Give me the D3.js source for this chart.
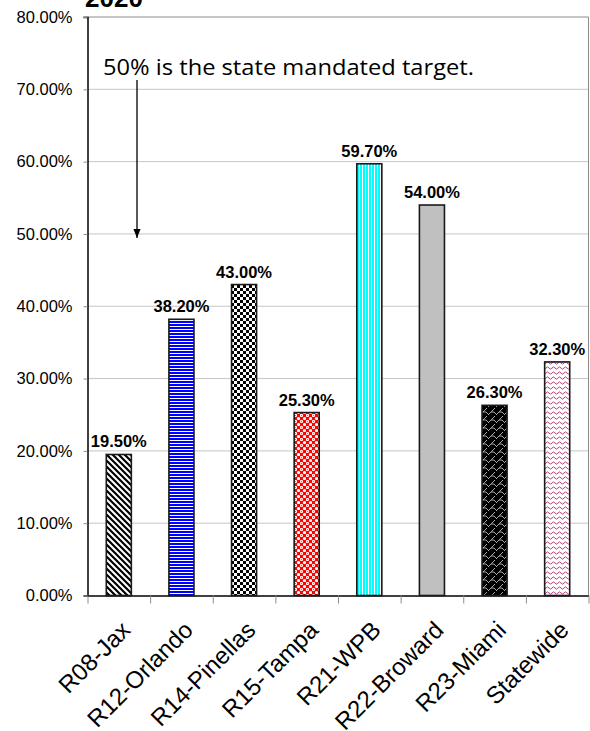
<!DOCTYPE html>
<html>
<head>
<meta charset="utf-8">
<script src="https://cdn.jsdelivr.net/npm/d3@7"></script>
<style>
  body { margin: 0; background: #fff; }
  svg { display: block; }
</style>
</head>
<body>
<div id="chart"></div>
<script>
// data
const regions = ["R08-Jax", "R12-Orlando", "R14-Pinellas", "R15-Tampa", "R21-WPB", "R22-Broward", "R23-Miami", "Statewide"];
const rates = [19.5, 38.2, 43.0, 25.3, 59.7, 54.0, 26.3, 32.3];
const yTicks = [0, 10, 20, 30, 40, 50, 60, 70, 80];
const fills = ["url(#pDiag)", "url(#pHoriz)", "url(#pCheck)", "url(#pRed)", "url(#pCyan)", "#c0c0c0", "url(#pMiami)", "url(#pWave)"];

const W = 590, H = 731;
const plotL = 87.5, plotR = 588.5, plotT = 17, plotB = 595.5;

const svg = d3.select("#chart").append("svg")
    .attr("width", W)
    .attr("height", H);

// pattern fills
const defs = svg.append("defs");

let p = defs.append("pattern").attr("id", "pDiag").attr("patternUnits", "userSpaceOnUse")
    .attr("width", 6).attr("height", 6);
p.append("rect").attr("width", 6).attr("height", 6).attr("fill", "#fff");
p.append("path").attr("d", "M-1,-1 L7,7 M-4,2 L2,8 M4,-2 L10,4")
    .attr("stroke", "#000").attr("stroke-width", 2.2);

p = defs.append("pattern").attr("id", "pHoriz").attr("patternUnits", "userSpaceOnUse")
    .attr("width", 4).attr("height", 3);
p.append("rect").attr("width", 4).attr("height", 3).attr("fill", "#fff");
p.append("rect").attr("width", 4).attr("height", 2).attr("fill", "#0000ff");

p = defs.append("pattern").attr("id", "pCheck").attr("patternUnits", "userSpaceOnUse")
    .attr("width", 6).attr("height", 6);
p.append("rect").attr("width", 6).attr("height", 6).attr("fill", "#fff");
p.append("rect").attr("width", 3).attr("height", 3).attr("fill", "#000");
p.append("rect").attr("x", 3).attr("y", 3).attr("width", 3).attr("height", 3).attr("fill", "#000");

p = defs.append("pattern").attr("id", "pRed").attr("patternUnits", "userSpaceOnUse")
    .attr("width", 6).attr("height", 6);
p.append("rect").attr("width", 6).attr("height", 6).attr("fill", "#ff0000");
p.append("circle").attr("cx", 1.5).attr("cy", 1.5).attr("r", 1.6).attr("fill", "#fff");
p.append("circle").attr("cx", 4.5).attr("cy", 4.5).attr("r", 1.6).attr("fill", "#fff");
p.append("rect").attr("x", 1).attr("y", 1).attr("width", 1).attr("height", 1).attr("fill", "#ff6060");

p = defs.append("pattern").attr("id", "pCyan").attr("patternUnits", "userSpaceOnUse")
    .attr("width", 3).attr("height", 4);
p.append("rect").attr("width", 3).attr("height", 4).attr("fill", "#fff");
p.append("rect").attr("width", 2).attr("height", 4).attr("fill", "#00ffff");

p = defs.append("pattern").attr("id", "pMiami").attr("patternUnits", "userSpaceOnUse")
    .attr("width", 8).attr("height", 8);
p.append("rect").attr("width", 8).attr("height", 8).attr("fill", "#000");
p.append("path").attr("d", "M0,7 L3,4 L6,4 M3,4 L7,0 M6,4 L8,6")
    .attr("stroke", "#a8a8a8").attr("stroke-width", 1).attr("fill", "none");

p = defs.append("pattern").attr("id", "pWave").attr("patternUnits", "userSpaceOnUse")
    .attr("width", 6).attr("height", 5);
p.append("rect").attr("width", 6).attr("height", 5).attr("fill", "#fff");
p.append("path").attr("d", "M0,3 Q1.5,0.8 3,3 T6,3")
    .attr("stroke", "#b8407a").attr("stroke-width", 1).attr("fill", "none");

defs.append("marker").attr("id", "arrow")
    .attr("viewBox", "0 0 10 10").attr("refX", 10).attr("refY", 5)
    .attr("markerWidth", 7).attr("markerHeight", 7).attr("orient", "auto")
    .append("path").attr("d", "M0,1 L10,5 L0,9 z").attr("fill", "#000");

// scales
const x = d3.scaleBand().domain(regions).range([plotL, plotR])
    .paddingInner(0.6).paddingOuter(0.3);
const y = d3.scaleLinear().domain([0, 80]).range([plotB, plotT]);
const edges = d3.scaleLinear().domain([0, regions.length]).range([plotL, plotR]);

// gridlines
svg.append("g").selectAll("line")
    .data(yTicks.filter(t => t > 0 && t < 80))
    .join("line")
    .attr("x1", plotL).attr("x2", plotR)
    .attr("y1", d => y(d)).attr("y2", d => y(d))
    .attr("stroke", "#8c8c8c").attr("stroke-width", 1).attr("stroke-dasharray", "1,1");

// plot frame (top and right)
svg.append("line").attr("x1", plotL - 4).attr("x2", plotR).attr("y1", y(80)).attr("y2", y(80))
    .attr("stroke", "#8c8c8c");
svg.append("line").attr("x1", plotR).attr("x2", plotR).attr("y1", y(80)).attr("y2", plotB)
    .attr("stroke", "#8c8c8c");

// y axis
const yAxis = svg.append("g").attr("transform", `translate(${plotL},0)`)
    .call(d3.axisLeft(y).tickValues(yTicks).tickSize(4).tickPadding(11)
        .tickFormat(d => d.toFixed(2) + "%"));
yAxis.select(".domain").attr("stroke", "#000").attr("stroke-width", 1.5);
yAxis.selectAll(".tick line").attr("stroke", "#8c8c8c");
yAxis.selectAll(".tick text")
    .attr("font-family", "Arial, 'Liberation Sans', sans-serif")
    .attr("font-size", 16.5).attr("fill", "#000");

// x axis (ticks at category edges)
const xAxis = svg.append("g").attr("transform", `translate(0,${plotB})`)
    .call(d3.axisBottom(edges).tickValues(d3.range(regions.length + 1))
        .tickSize(8).tickSizeOuter(0).tickFormat(""));
xAxis.select(".domain").attr("stroke", "#000").attr("stroke-width", 1.5);
xAxis.selectAll(".tick line").attr("stroke", "#8c8c8c");

// category labels
svg.append("g").selectAll("text")
    .data(regions)
    .join("text")
    .attr("transform", d => `translate(${x(d) + x.bandwidth() / 2 + 13},${plotB + 36}) rotate(-45)`)
    .attr("text-anchor", "end")
    .attr("font-family", "Arial, 'Liberation Sans', sans-serif")
    .attr("font-size", 24)
    .attr("fill", "#000")
    .text(d => d);

// bars
svg.append("g").selectAll("rect")
    .data(regions)
    .join("rect")
    .attr("x", d => x(d))
    .attr("width", x.bandwidth())
    .attr("y", (d, i) => y(rates[i]))
    .attr("height", (d, i) => plotB - y(rates[i]))
    .attr("fill", (d, i) => fills[i])
    .attr("stroke", "#1a1a1a")
    .attr("stroke-width", 1.6);

// value labels
svg.append("g").selectAll("text")
    .data(regions)
    .join("text")
    .attr("x", d => x(d) + x.bandwidth() / 2)
    .attr("y", (d, i) => y(rates[i]) - 7)
    .attr("text-anchor", "middle")
    .attr("font-family", "Arial, 'Liberation Sans', sans-serif")
    .attr("font-weight", "bold")
    .attr("font-size", 16.5)
    .attr("fill", "#000")
    .text((d, i) => rates[i].toFixed(2) + "%");

// cut-off title
svg.append("text")
    .attr("x", 85).attr("y", 7)
    .attr("font-family", "Arial, 'Liberation Sans', sans-serif")
    .attr("font-weight", "bold")
    .attr("font-size", 26)
    .text("2020");

// annotation
svg.append("text")
    .attr("x", 103).attr("y", 75)
    .attr("font-family", "'Open Sans', 'Noto Sans', sans-serif")
    .attr("font-size", 22.5)
    .attr("textLength", 371)
    .attr("lengthAdjust", "spacingAndGlyphs")
    .text("50% is the state mandated target.");

svg.append("line")
    .attr("x1", 137).attr("y1", 80)
    .attr("x2", 137).attr("y2", y(50) + 4)
    .attr("stroke", "#000").attr("stroke-width", 1.3)
    .attr("marker-end", "url(#arrow)");
</script>
</body>
</html>
